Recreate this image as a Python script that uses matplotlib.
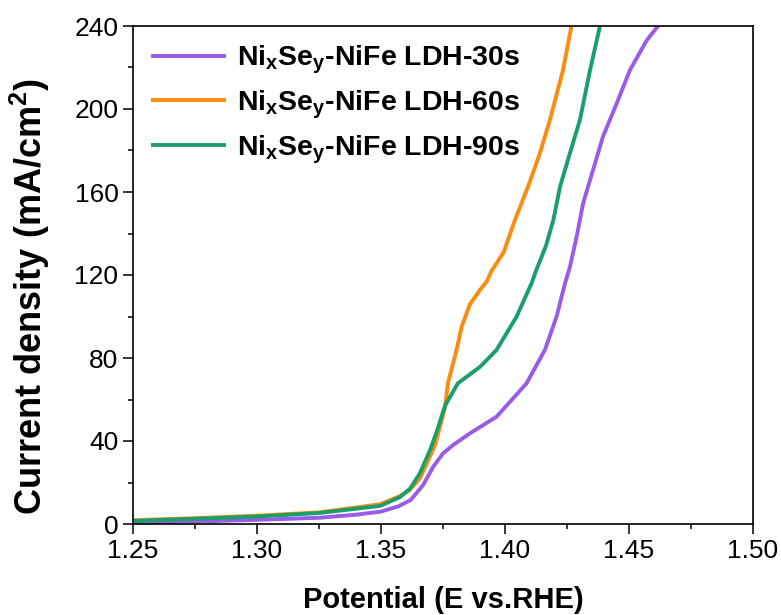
import matplotlib
matplotlib.use('Agg')
import matplotlib.pyplot as plt
from matplotlib.ticker import MultipleLocator

plt.rcParams['font.family'] = 'Liberation Sans'
plt.rcParams['mathtext.fontset'] = 'custom'
plt.rcParams['mathtext.rm'] = 'Liberation Sans:bold'
plt.rcParams['mathtext.bf'] = 'Liberation Sans:bold'

# NixSey-NiFe LDH-30s
x_30s = [1.250, 1.275, 1.300, 1.325, 1.340, 1.350, 1.357, 1.362, 1.367, 1.371,
         1.375, 1.379, 1.386, 1.3966, 1.4087, 1.4161, 1.4208, 1.4242, 1.4262,
         1.4289, 1.4315, 1.4355, 1.4395, 1.4450, 1.4504, 1.4571, 1.4617]
y_30s = [0.5, 1.2, 2.0, 3.0, 4.5, 6.0, 8.5, 11.6, 18.8, 27.5,
         34.0, 38.0, 43.8, 51.7, 67.8, 83.9, 100, 116, 124,
         138.5, 154.6, 170.6, 186.7, 202.6, 218.8, 233, 240]

# NixSey-NiFe LDH-60s
x_60s = [1.250, 1.275, 1.300, 1.325, 1.3496, 1.3577, 1.3617, 1.3657, 1.3718,
         1.3758, 1.377, 1.3805, 1.3825, 1.3859, 1.3899, 1.3926, 1.3946, 1.3995,
         1.404, 1.4093, 1.4141, 1.4181, 1.4234, 1.4268]
y_60s = [1.8, 2.8, 4.0, 5.6, 9.5, 13.5, 16.5, 22, 38,
         56, 68, 84, 95, 106, 112.8, 116.8, 122, 131,
         146.5, 162.6, 178.8, 194.7, 218.8, 240]

# NixSey-NiFe LDH-90s
x_90s = [1.250, 1.275, 1.300, 1.325, 1.3496, 1.3577, 1.3617, 1.3657, 1.3698,
         1.3726, 1.3758, 1.381, 1.390, 1.3966, 1.4047, 1.4107, 1.4125, 1.4165,
         1.4195, 1.4222, 1.4262, 1.4302, 1.4343, 1.4383]
y_90s = [1.5, 2.5, 3.6, 5.3, 8.7, 13, 17, 24.5, 35.7,
         45, 57, 67.8, 75.8, 83.9, 100, 116, 122, 134,
         146.5, 162.6, 178.8, 194.7, 218.8, 240]

labels = [r'Ni$_\mathbf{x}$Se$_\mathbf{y}$-NiFe LDH-30s',
          r'Ni$_\mathbf{x}$Se$_\mathbf{y}$-NiFe LDH-60s',
          r'Ni$_\mathbf{x}$Se$_\mathbf{y}$-NiFe LDH-90s']
colors = ['#9A5CE6', '#FA8C10', '#1A9E6A']

fig = plt.figure(figsize=(7.81, 6.15), dpi=100)
ax = fig.add_axes([133 / 781, 1 - 524 / 615, 620 / 781, 498 / 615])

for xs, ys, lab, c in zip([x_30s, x_60s, x_90s], [y_30s, y_60s, y_90s], labels, colors):
    ax.plot(xs, ys, color=c, lw=2.8, label=lab)

ax.set_xlim(1.25, 1.50)
ax.set_ylim(0, 240)
ax.xaxis.set_major_locator(MultipleLocator(0.05))
ax.xaxis.set_minor_locator(MultipleLocator(0.025))
ax.yaxis.set_major_locator(MultipleLocator(40))
ax.yaxis.set_minor_locator(MultipleLocator(20))
ax.xaxis.set_major_formatter(matplotlib.ticker.FormatStrFormatter('%.2f'))
ax.tick_params(which='major', direction='out', length=7, width=1.1, labelsize=19)
ax.tick_params(which='minor', direction='out', length=3.5, width=1.1)
for s in ax.spines.values():
    s.set_linewidth(1.2)

ax.set_xlabel('Potential (E vs.RHE)', fontsize=21, fontweight='bold', labelpad=17)
ax.set_ylabel(r'Current density (mA/cm$^2$)', fontsize=26, fontweight='bold')
ax.yaxis.set_label_coords(-0.13, 0.456)

ax.legend(loc='upper left', bbox_to_anchor=(-0.005, 1.01), frameon=False,
          prop={'weight': 'bold', 'size': 20.5}, handlelength=2.5,
          handletextpad=0.45, labelspacing=0.42, borderaxespad=0.4)

fig.savefig('out.png', dpi=100)
